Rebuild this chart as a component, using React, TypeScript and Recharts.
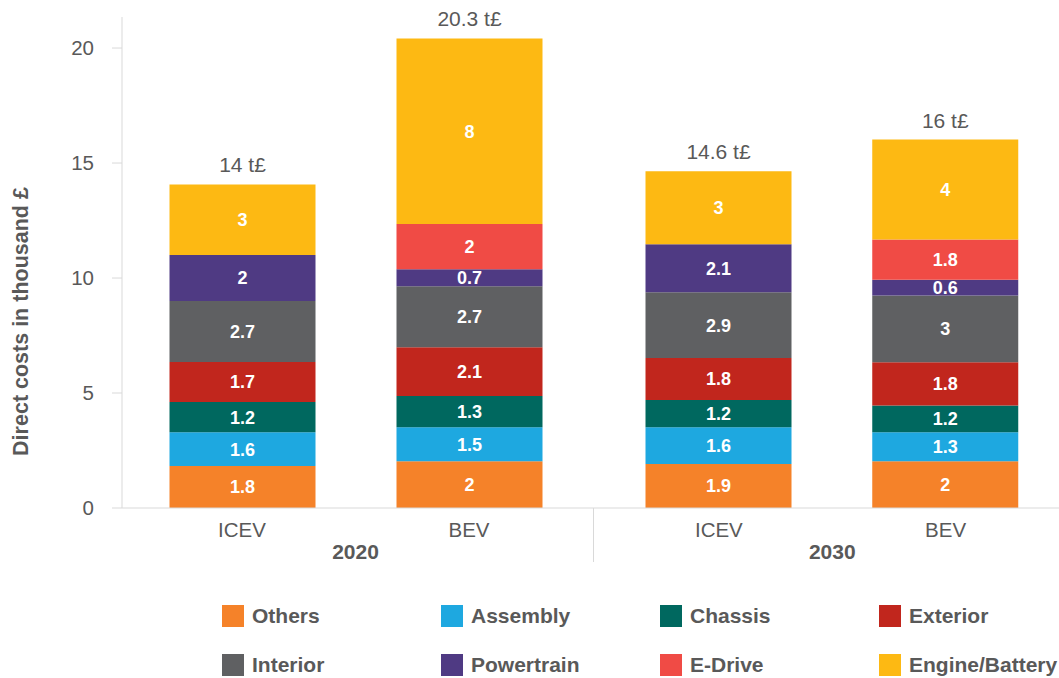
import React from "react";
import { BarChart, Bar, XAxis, YAxis, LabelList } from "recharts";

const CATEGORIES = ["ICEV", "BEV", "ICEV", "BEV"];
const YEARS = ["2020", "2020", "2030", "2030"];
const TOTAL_LABELS = ["14 t£", "20.3 t£", "14.6 t£", "16 t£"];
const Y_TICKS = [0, 5, 10, 15, 20];

const SERIES = ["Others", "Assembly", "Chassis", "Exterior", "Interior", "Powertrain", "E-Drive", "Engine/Battery"];
const COLORS = ["#F58229", "#1EA8E0", "#00685F", "#C1261D", "#5F6062", "#4F3A83", "#F04B45", "#FDB913"];

// bar heights (thousand £)
const OTHERS = [1.83, 2.03, 1.91, 2.03];
const ASSEMBLY = [1.46, 1.48, 1.6, 1.26];
const CHASSIS = [1.32, 1.36, 1.19, 1.17];
const EXTERIOR = [1.74, 2.12, 1.82, 1.88];
const INTERIOR = [2.65, 2.65, 2.86, 2.9];
const POWERTRAIN = [2.0, 0.74, 2.09, 0.69];
const EDRIVE = [0, 1.97, 0, 1.74];
const ENGINE_BATTERY = [3.07, 8.07, 3.17, 4.35];

// data labels as printed in the bars
const OTHERS_LABELS = ["1.8", "2", "1.9", "2"];
const ASSEMBLY_LABELS = ["1.6", "1.5", "1.6", "1.3"];
const CHASSIS_LABELS = ["1.2", "1.3", "1.2", "1.2"];
const EXTERIOR_LABELS = ["1.7", "2.1", "1.8", "1.8"];
const INTERIOR_LABELS = ["2.7", "2.7", "2.9", "3"];
const POWERTRAIN_LABELS = ["2", "0.7", "2.1", "0.6"];
const EDRIVE_LABELS = ["", "2", "", "1.8"];
const ENGINE_BATTERY_LABELS = ["3", "8", "3", "4"];

const VALUES = [OTHERS, ASSEMBLY, CHASSIS, EXTERIOR, INTERIOR, POWERTRAIN, EDRIVE, ENGINE_BATTERY];
const LABELS = [
  OTHERS_LABELS, ASSEMBLY_LABELS, CHASSIS_LABELS, EXTERIOR_LABELS,
  INTERIOR_LABELS, POWERTRAIN_LABELS, EDRIVE_LABELS, ENGINE_BATTERY_LABELS,
];

const ROWS = CATEGORIES.map((cat, i) => {
  const row: Record<string, string | number> = { cat, year: YEARS[i], total: TOTAL_LABELS[i] };
  VALUES.forEach((vals, j) => {
    row[`v${j}`] = vals[i];
    row[`l${j}`] = LABELS[j][i];
  });
  return row;
});

const TEXT = "#595959";
const AXIS = "#D9D9D9";
const FONT = '"Liberation Sans", Arial, sans-serif';

// keep the page from growing scrollbars
if (typeof document !== "undefined") document.body.style.margin = "0";

const CatTick = ({ x, y, payload }: any) => (
  <text x={x} y={y + 29} textAnchor="middle" fill={TEXT} fontSize={20.5}>
    {payload.value}
  </text>
);

const YearTick = ({ x, y, payload }: any) => (
  <text x={x} y={y + 17} textAnchor="middle" fill={TEXT} fontSize={21} fontWeight="bold">
    {payload.value}
  </text>
);

const YLabel = ({ viewBox }: any) => {
  const x = viewBox.x + 20;
  const y = viewBox.y + viewBox.height / 2 + 59;
  return (
    <text x={x} y={y} transform={`rotate(-90, ${x}, ${y})`} textAnchor="middle" fill={TEXT} fontSize={21.5} fontWeight="bold">
      Direct costs in thousand £
    </text>
  );
};

function YearChart({ year, width, showAxis, padLeft, padRight }: any) {
  const data = ROWS.filter((r) => r.year === year);
  return (
    <BarChart width={width} height={560} data={data} margin={{ top: 9, right: 0, bottom: 0, left: 0 }}>
      <XAxis
        dataKey="cat"
        interval={0}
        padding={{ left: padLeft, right: padRight }}
        axisLine={{ stroke: AXIS }}
        tickLine={false}
        tickSize={0}
        tickMargin={0}
        height={34}
        tick={<CatTick />}
      />
      <XAxis
        xAxisId="year"
        dataKey="year"
        allowDuplicatedCategory={false}
        padding={{ left: padLeft, right: padRight }}
        axisLine={false}
        tickLine={false}
        tickSize={0}
        tickMargin={0}
        height={26}
        tick={<YearTick />}
      />
      <YAxis
        hide={!showAxis}
        width={114}
        domain={[0, 21.35]}
        ticks={Y_TICKS}
        axisLine={{ stroke: AXIS }}
        tickLine={{ stroke: AXIS }}
        tickSize={10}
        tickMargin={18}
        tick={{ fill: TEXT, fontSize: 20.5 }}
        label={showAxis ? { content: (p: any) => <YLabel {...p} /> } : undefined}
      />
      {SERIES.map((name, j) => (
        <Bar key={name} dataKey={`v${j}`} name={name} stackId="a" fill={COLORS[j]} barSize={146} isAnimationActive={false}>
          <LabelList dataKey={`l${j}`} position="center" fill="#FFFFFF" fontSize={18} fontWeight="bold" />
          {j === SERIES.length - 1 && (
            <LabelList dataKey="total" position="top" offset={12} fill={TEXT} fontSize={21} />
          )}
        </Bar>
      ))}
    </BarChart>
  );
}

export default function App() {
  return (
    <div style={{ position: "relative", width: 1059, height: 678, overflow: "hidden", fontFamily: FONT }}>
      <div style={{ position: "absolute", left: 8, top: 8, width: 1051, height: 670 }}>
        <div style={{ position: "absolute", left: 0, top: 0 }}>
          <YearChart year="2020" width={586} showAxis padLeft={6.5} padRight={11.5} />
        </div>
        <div style={{ position: "absolute", left: 586, top: 0 }}>
          <YearChart year="2030" width={465} showAxis={false} padLeft={11.5} padRight={0} />
        </div>
        <div style={{ position: "absolute", left: 585, top: 500, width: 1, height: 54, background: AXIS }} />
        <div
          style={{
            position: "absolute",
            left: 214,
            top: 597,
            display: "grid",
            gridTemplateColumns: "repeat(4, 219px)",
            rowGap: 27,
          }}
        >
          {SERIES.map((name, j) => (
            <div key={name} style={{ display: "flex", alignItems: "center", height: 22 }}>
              <span style={{ width: 22, height: 22, background: COLORS[j], marginRight: 8, flexShrink: 0 }} />
              <span style={{ fontSize: 21, fontWeight: "bold", color: TEXT, whiteSpace: "nowrap" }}>{name}</span>
            </div>
          ))}
        </div>
      </div>
    </div>
  );
}
